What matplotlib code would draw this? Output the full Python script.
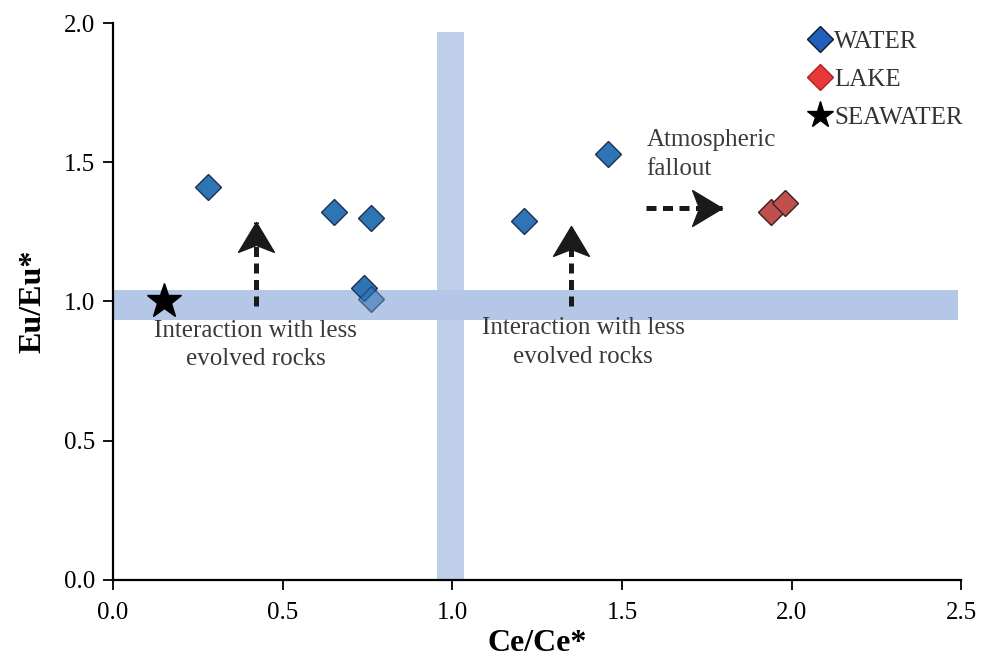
import matplotlib.pyplot as plt
from matplotlib.lines import Line2D
from matplotlib.path import Path

plt.rcParams['font.family'] = ['Liberation Serif', 'DejaVu Serif']

# Ce/Ce* and Eu/Eu* anomalies
water_ce = [0.28, 0.65, 0.76, 0.74, 0.76, 1.21, 1.46]
water_eu = [1.41, 1.32, 1.30, 1.05, 1.01, 1.29, 1.53]
lake_ce = [1.94, 1.98]
lake_eu = [1.32, 1.355]
sea_ce = [0.15]
sea_eu = [1.0]

fig, ax = plt.subplots(figsize=(9.83, 6.64), dpi=100)
fig.subplots_adjust(left=0.115, right=0.978, top=0.965, bottom=0.127)

band = '#b4c7e7'
ax.fill_between([0.0, 2.49], 0.935, 1.04, color=band, lw=0, zorder=1)
ax.fill_betweenx([0.0, 1.97], 0.955, 1.035, color=band, lw=0, alpha=0.85, zorder=1)

dkw = dict(ls='', marker='D', ms=13, mew=1.0, zorder=3)
ax.plot(water_ce[:4], water_eu[:4], mfc='#2e75b6', mec='#1f2f4f', **dkw)
ax.plot(water_ce[4:5], water_eu[4:5], mfc='#2e75b6', mec='#1f2f4f', alpha=0.6, **dkw)
ax.plot(water_ce[5:], water_eu[5:], mfc='#2e75b6', mec='#1f2f4f', **dkw)
ax.plot(lake_ce, lake_eu, mfc='#c0504d', mec='#3a2020', **dkw)
ax.plot(sea_ce, sea_eu, '*', ms=26, color='black', zorder=4)

# notched arrow heads, tip sits at the marker origin
head_up = Path([(0, 0), (18, -30), (0, -23), (-18, -30), (0, 0)], closed=True)
head_right = Path([(0, 0), (-30, 18), (-23, 0), (-30, -18), (0, 0)], closed=True)


def dashed_arrow(x0, y0, x1, y1, head):
    ax.plot([x0, x1], [y0, y1], color='#1a1a1a', lw=3.6,
            linestyle=(0, (2.0, 1.3)), dash_capstyle='butt', zorder=5)
    ax.plot([x1], [y1], ls='', marker=head, ms=43, color='#1a1a1a', zorder=6)


dashed_arrow(0.42, 0.985, 0.42, 1.285, head_up)
dashed_arrow(1.35, 0.985, 1.35, 1.27, head_up)
dashed_arrow(1.57, 1.336, 1.795, 1.336, head_right)

txt = dict(fontsize=18, color='#3a3a3a', linespacing=1.4)
ax.text(0.42, 0.935, 'Interaction with less\nevolved rocks', ha='center', va='top', **txt)
ax.text(1.385, 0.943, 'Interaction with less\nevolved rocks', ha='center', va='top', **txt)
ax.text(1.572, 1.62, 'Atmospheric\nfallout', ha='left', va='top', **txt)

ax.set_xlim(0, 2.5)
ax.set_ylim(0, 2.0)
ax.set_xticks([0.0, 0.5, 1.0, 1.5, 2.0, 2.5])
ax.set_yticks([0.0, 0.5, 1.0, 1.5, 2.0])
ax.xaxis.set_major_formatter('{x:.1f}')
ax.yaxis.set_major_formatter('{x:.1f}')
ax.tick_params(labelsize=18, direction='out', length=7, width=1.3, colors='black')
ax.tick_params(axis='x', pad=9)
ax.tick_params(axis='y', pad=6)
ax.spines['top'].set_visible(False)
ax.spines['right'].set_visible(False)
for s in ('left', 'bottom'):
    ax.spines[s].set_linewidth(1.6)
ax.set_xlabel('Ce/Ce*', fontsize=23, fontweight='bold', labelpad=4)
ax.set_ylabel('Eu/Eu*', fontsize=23, fontweight='bold', labelpad=12)

handles = [
    Line2D([], [], ls='', marker='D', ms=13, mfc='#2060b8', mec='#101830', label='WATER'),
    Line2D([], [], ls='', marker='D', ms=13, mfc='#e8383a', mec='#b02020', label='LAKE'),
    Line2D([], [], ls='', marker='*', ms=20, color='black', label='SEAWATER'),
]
ax.legend(handles=handles, loc='upper left', bbox_to_anchor=(0.794, 1.027), frameon=False,
          fontsize=18, handlelength=0.9, handletextpad=0.1, labelspacing=0.62,
          labelcolor='#333333')

fig.savefig('out.png', dpi=100)
